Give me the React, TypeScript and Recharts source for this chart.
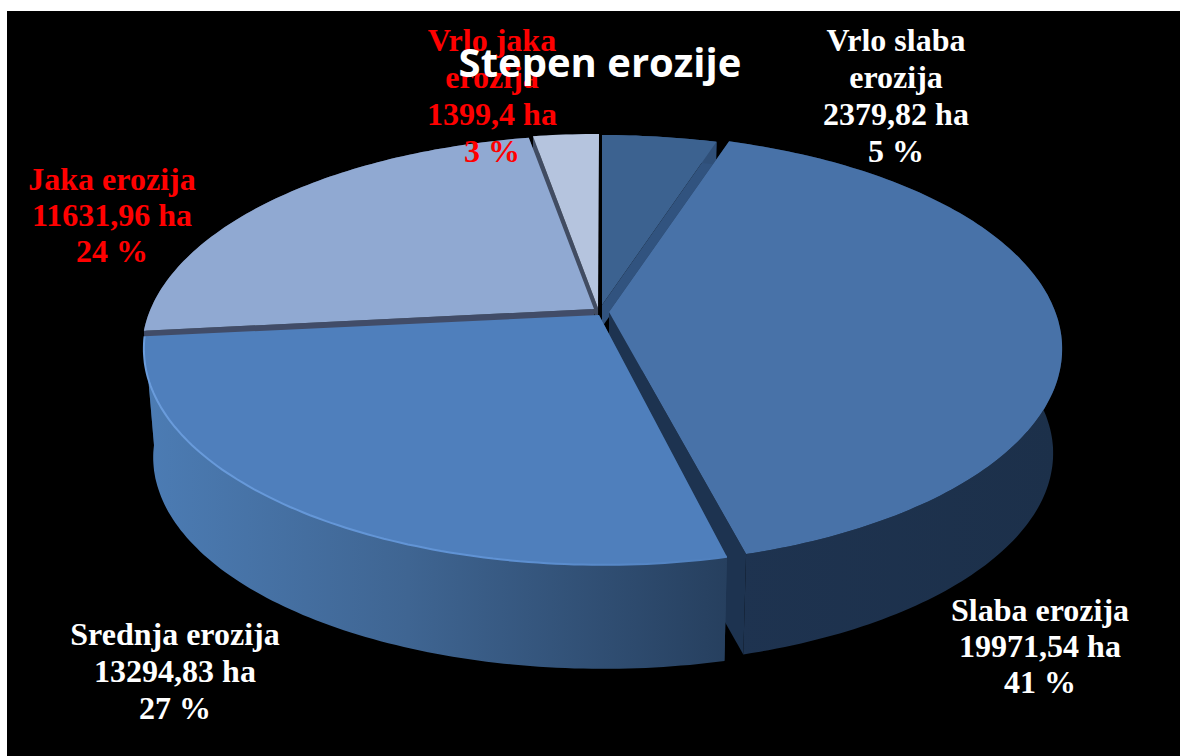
import { Pie, PieChart } from 'recharts';

const sliceNames = ['Vrlo slaba erozija', 'Slaba erozija', 'Srednja erozija', 'Jaka erozija', 'Vrlo jaka erozija'];
const hectares = [2379.82, 19971.54, 13294.83, 11631.96, 1399.4];
const hectareLabels = ['2379,82 ha', '19971,54 ha', '13294,83 ha', '11631,96 ha', '1399,4 ha'];
const percentLabels = ['5 %', '41 %', '27 %', '24 %', '3 %'];
const nameLines = [['Vrlo slaba', 'erozija'], ['Slaba erozija'], ['Srednja erozija'], ['Jaka erozija'], ['Vrlo jaka', 'erozija']];

const topColors = ['#3c6290', '#4872a8', '#4f7fbc', '#90a9d2', '#b5c4de'];
const cutColors = ['#31537f', '#1d3350', '#27405f', '#414c68', '#414c62'];
const wallFills = ['#2f4f78', 'url(#wallSlaba)', 'url(#wallSrednja)', '#414c68', '#414c62'];
const labelColors = ['#ffffff', '#ffffff', '#ffffff', '#ff0000', '#ff0000'];

// each slice is pulled out of the pie a little: rim and tip move separately
const rimX = [2, 3, 3, 1, -1];
const rimY = [0, -2, -2, 0, -1];
const tipX = [2, 9, -1, -6, -2];
const tipY = [-17, -10, -7, -13, -14];
const depths = [22, 105, 109, 7, 16];
// small angle corrections at the slice ends, in degrees
const startTrim = [0, 0.6, 1, 4, 0.9];
const endTrim = [1.1, 1.2, -2, 0, 0];

const labelX = [896, 1040, 175, 112, 492];
const labelY = [51, 621, 645, 190, 51];
const labelLineGap = [37, 36, 37, 36, 37];

const chartData = sliceNames.map((name, i) => ({ name, value: hectares[i] }));

// perspective of the tilted disc
const TILT = 0.466;
const PERSPECTIVE = 0.134;

function project(cx: number, cy: number, radius: number, angle: number) {
  const t = ((90 - angle) * Math.PI) / 180;
  const u = Math.sin(t);
  const v = Math.cos(t);
  const w = 1 + PERSPECTIVE * v;
  return { x: cx + (radius * u) / w, y: cy - (radius * TILT * v) / w };
}

function arcPoints(props: any, i: number, depth: number) {
  const { cx, cy, outerRadius, startAngle, endAngle } = props;
  const from = startAngle - startTrim[i];
  const to = endAngle + endTrim[i];
  const scale = 1 - (0.02 * depth) / 107;
  const pts = [];
  const steps = Math.max(2, Math.ceil(Math.abs(to - from)));
  for (let s = 0; s <= steps; s++) {
    const p = project(cx, cy, outerRadius * scale, from + ((to - from) * s) / steps);
    pts.push({ x: p.x + rimX[i], y: p.y + rimY[i] + depth });
  }
  return pts;
}

const toPath = (pts: { x: number; y: number }[]) =>
  'M' + pts.map((p) => `${p.x.toFixed(1)},${p.y.toFixed(1)}`).join('L') + 'Z';

function sliceIndex(props: any) {
  return sliceNames.indexOf(props.name ?? props.payload?.name);
}

function WallShape(props: any) {
  const i = sliceIndex(props);
  const { cx, cy } = props;
  const d = depths[i];
  const top = arcPoints(props, i, 0);
  const bottom = arcPoints(props, i, d);
  const tip = { x: cx + tipX[i], y: cy + tipY[i] };
  const tipBottom = { x: tip.x, y: tip.y + d };
  const last = top.length - 1;
  return (
    <g>
      <path d={toPath([tip, top[0], bottom[0], tipBottom])} fill={cutColors[i]} />
      <path d={toPath([tip, top[last], bottom[last], tipBottom])} fill={cutColors[i]} />
      <path d={toPath([...top, ...[...bottom].reverse()])} fill={wallFills[i]} />
    </g>
  );
}

function TopShape(props: any) {
  const i = sliceIndex(props);
  const { cx, cy } = props;
  const top = arcPoints(props, i, 0);
  const tip = { x: cx + tipX[i], y: cy + tipY[i] };
  const rim = 'M' + top.map((p) => `${p.x.toFixed(1)},${p.y.toFixed(1)}`).join('L');
  return (
    <g>
      <path d={toPath([tip, ...top])} fill={topColors[i]} />
      {i === 2 && <path d={rim} fill="none" stroke="url(#rimSrednja)" strokeWidth={2} />}
    </g>
  );
}

function SliceLabel(props: any) {
  const i = sliceIndex(props);
  const lines = [...nameLines[i], hectareLabels[i], percentLabels[i]];
  return (
    <text
      x={labelX[i]}
      y={labelY[i]}
      textAnchor="middle"
      fill={labelColors[i]}
      fontFamily="'Liberation Serif', serif"
      fontWeight="bold"
      fontSize={32}
    >
      {lines.map((line, n) => (
        <tspan key={line} x={labelX[i]} dy={n === 0 ? 0 : labelLineGap[i]}>
          {line}
        </tspan>
      ))}
    </text>
  );
}

export default function App() {
  return (
    <div style={{ position: 'absolute', left: 0, top: 0, width: 1180, height: 756, background: '#fff', overflow: 'hidden' }}>
      <div style={{ position: 'absolute', left: 7, top: 11, right: 0, bottom: 0, background: '#000' }} />
      <div style={{ position: 'absolute', left: 0, top: 0 }}>
        <PieChart width={1180} height={756} margin={{ top: 0, right: 0, bottom: 0, left: 0 }}>
          <defs>
            <linearGradient id="wallSlaba" gradientUnits="userSpaceOnUse" x1="730" y1="0" x2="1060" y2="0">
              <stop offset="0" stopColor="#1e3350" />
              <stop offset="1" stopColor="#1c304a" />
            </linearGradient>
            <linearGradient id="wallSrednja" gradientUnits="userSpaceOnUse" x1="145" y1="0" x2="730" y2="0">
              <stop offset="0" stopColor="#4c7cb4" />
              <stop offset="0.45" stopColor="#3f6592" />
              <stop offset="1" stopColor="#263f5e" />
            </linearGradient>
            <linearGradient id="rimSrednja" gradientUnits="userSpaceOnUse" x1="145" y1="0" x2="730" y2="0">
              <stop offset="0" stopColor="#6a9cdc" />
              <stop offset="0.6" stopColor="#5f92d4" />
              <stop offset="1" stopColor="#4f7fbc" />
            </linearGradient>
          </defs>
          <Pie
            data={chartData}
            dataKey="value"
            nameKey="name"
            cx={600}
            cy={322}
            outerRadius={455}
            startAngle={90}
            endAngle={-270}
            stroke="none"
            shape={WallShape}
            isAnimationActive={false}
          />
          <Pie
            data={chartData}
            dataKey="value"
            nameKey="name"
            cx={600}
            cy={322}
            outerRadius={455}
            startAngle={90}
            endAngle={-270}
            stroke="none"
            shape={TopShape}
            label={SliceLabel}
            labelLine={false}
            isAnimationActive={false}
          />
        </PieChart>
      </div>
      <div
        style={{
          position: 'absolute',
          left: 400,
          width: 400,
          top: 36,
          textAlign: 'center',
          color: '#fff',
          fontFamily: "'Open Sans', sans-serif",
          fontWeight: 700,
          fontSize: 40,
          lineHeight: '52px',
        }}
      >
        Stepen erozije
      </div>
    </div>
  );
}
